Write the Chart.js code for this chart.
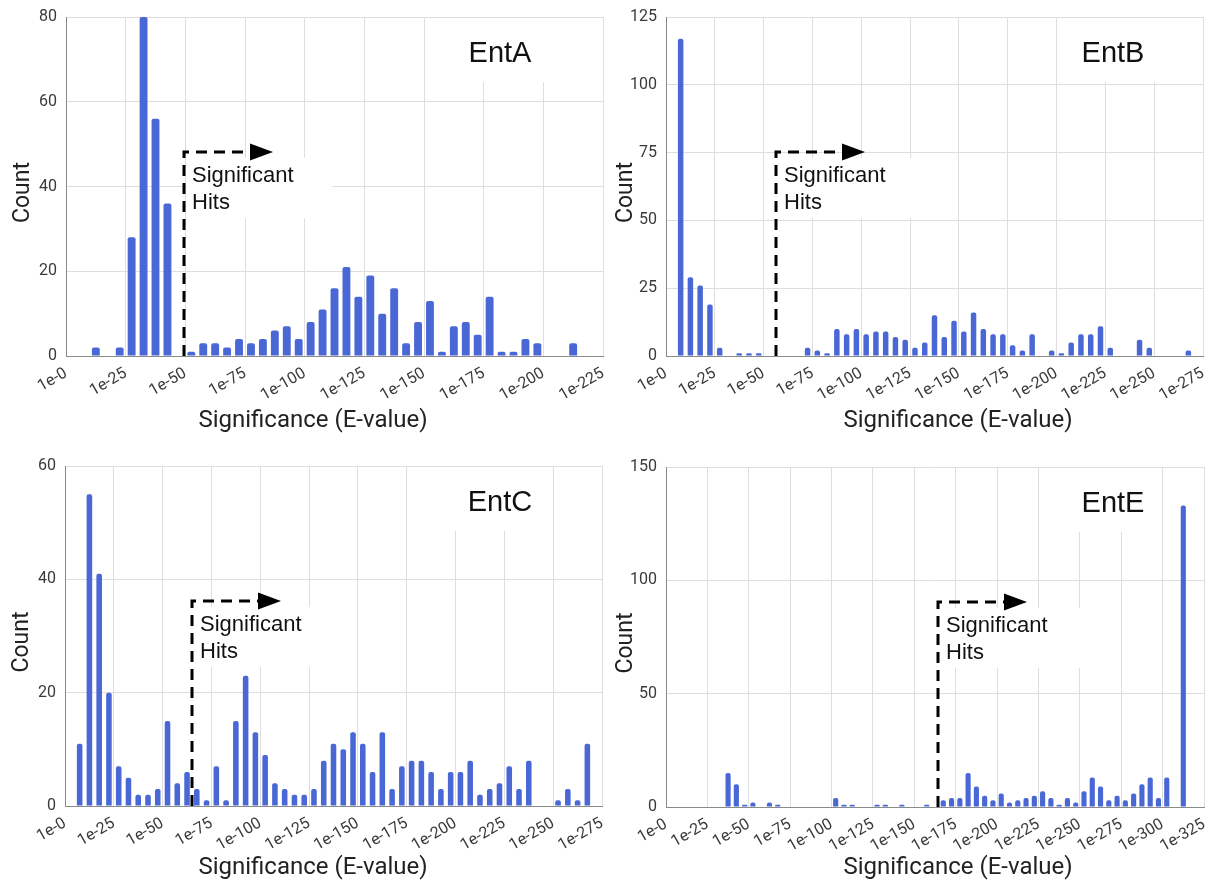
<!DOCTYPE html>
<html>
<head>
<meta charset="utf-8">
<title>E-value histograms</title>
<script src="https://cdn.jsdelivr.net/npm/chart.js@4.4.1/dist/chart.umd.min.js"></script>
<style>
  body { margin: 0; background: #fff; }
  .panel { position: absolute; }
</style>
</head>
<body>
<div class="panel" style="left:0;top:0"><canvas id="entA" width="612" height="444"></canvas></div>
<div class="panel" style="left:612px;top:0"><canvas id="entB" width="613" height="444"></canvas></div>
<div class="panel" style="left:0;top:444px"><canvas id="entC" width="612" height="444"></canvas></div>
<div class="panel" style="left:612px;top:444px"><canvas id="entE" width="613" height="444"></canvas></div>
<script>
// histogram bins are 5 units of -log10(E) wide, starting at 1e-0
const binWidth = 5;
const xTickStep = 25;

const countsA = [0, 0, 2, 0, 2, 28, 80, 56, 36, 0,
                 1, 3, 3, 2, 4, 3, 4, 6, 7, 4,
                 8, 11, 16, 21, 14, 19, 10, 16, 3, 8,
                 13, 1, 7, 8, 5, 14, 1, 1, 4, 3,
                 0, 0, 3, 0, 0];
const countsB = [0, 117, 29, 26, 19, 3, 0, 1, 1, 1,
                 0, 0, 0, 0, 3, 2, 1, 10, 8, 10,
                 8, 9, 9, 7, 6, 3, 5, 15, 7, 13,
                 9, 16, 10, 8, 8, 4, 2, 8, 0, 2,
                 1, 5, 8, 8, 11, 3, 0, 0, 6, 3,
                 0, 0, 0, 2, 0];
const countsC = [0, 11, 55, 41, 20, 7, 5, 2, 2, 3,
                 15, 4, 6, 3, 1, 7, 1, 15, 23, 13,
                 9, 4, 3, 2, 2, 3, 8, 11, 10, 13,
                 11, 6, 13, 3, 7, 8, 8, 6, 3, 6,
                 6, 8, 2, 3, 4, 7, 3, 8, 0, 0,
                 1, 3, 1, 11, 0];
const countsE = [0, 0, 0, 0, 0, 0, 0, 15, 10, 1,
                 2, 0, 2, 1, 0, 0, 0, 0, 0, 0,
                 4, 1, 1, 0, 0, 1, 1, 0, 1, 0,
                 0, 1, 0, 3, 4, 4, 15, 9, 5, 3,
                 6, 2, 3, 4, 5, 7, 4, 1, 4, 2,
                 7, 13, 9, 3, 5, 3, 6, 10, 13, 4,
                 13, 0, 133, 0, 0];

const panelNames = ["EntA", "EntB", "EntC", "EntE"];
const xMax = [225, 275, 275, 325];
const yMax = [80, 125, 60, 150];
const yStep = [20, 25, 20, 50];
// where the "Significant Hits" cut-off sits on each x axis
const cutoffs = [49.5, 56.5, 65, 164.5];

const barColor = "#4a67d6";
const gridColor = "#dedede";
const axisColor = "#8a8a8a";

const decor = {
  id: "panelDecor",
  beforeDatasetsDraw(chart, args, o) {
    const { ctx, chartArea: a, scales: { x } } = chart;
    const lx = x.getPixelForValue(o.cutoff);
    const ay = a.top + 135;
    ctx.save();
    ctx.fillStyle = "#fff";
    ctx.fillRect(o.nameX - 48, a.top + 1, 96, 64);
    ctx.fillRect(lx + 3, ay + 6, 145, 60);
    ctx.restore();
  },
  afterDatasetsDraw(chart, args, o) {
    const { ctx, chartArea: a, scales: { x } } = chart;
    const lx = Math.round(x.getPixelForValue(o.cutoff));
    const ay = a.top + 135;
    ctx.save();
    ctx.strokeStyle = "#000";
    ctx.lineWidth = 3;
    ctx.setLineDash([11, 7]);
    ctx.beginPath();
    ctx.moveTo(lx, a.bottom);
    ctx.lineTo(lx, ay);
    ctx.lineTo(lx + 66, ay);
    ctx.stroke();
    ctx.setLineDash([]);
    ctx.fillStyle = "#000";
    ctx.beginPath();
    ctx.moveTo(lx + 66, ay - 8.5);
    ctx.lineTo(lx + 89, ay);
    ctx.lineTo(lx + 66, ay + 8.5);
    ctx.closePath();
    ctx.fill();

    ctx.fillStyle = "#111";
    ctx.textBaseline = "middle";
    ctx.textAlign = "left";
    ctx.font = '22px "Liberation Sans", Arial, sans-serif';
    ctx.fillText("Significant", lx + 8, ay + 24);
    ctx.fillText("Hits", lx + 8, ay + 51);

    ctx.textAlign = "center";
    ctx.font = '29px "Liberation Sans", Arial, sans-serif';
    ctx.fillText(o.name, o.nameX, a.top + 37);

    // axis titles
    ctx.fillStyle = "#222";
    ctx.font = '24px Roboto, "Liberation Sans", sans-serif';
    ctx.fillText("Significance (E-value)", o.xTitleX, o.xTitleY);
    ctx.font = '23px Roboto, "Liberation Sans", sans-serif';
    ctx.translate(a.left - o.yTitleGap, (a.top + a.bottom) / 2 + 6);
    ctx.rotate(-Math.PI / 2);
    ctx.fillText("Count", 0, 0);
    ctx.restore();
  }
};

const layouts = [
  { top: 17, right: 9,  yWidth: 66, xHeight: 88, nameX: 500, xTitleX: 313, xTitleY: 421, yTitleGap: 43, pct: 0.66 },
  { top: 17, right: 22, yWidth: 54, xHeight: 88, nameX: 501, xTitleX: 346, xTitleY: 421, yTitleGap: 40, pct: 0.56 },
  { top: 22, right: 10, yWidth: 65, xHeight: 82, nameX: 500, xTitleX: 313, xTitleY: 424, yTitleGap: 43, pct: 0.57 },
  { top: 23, right: 21, yWidth: 54, xHeight: 81, nameX: 501, xTitleX: 346, xTitleY: 424, yTitleGap: 40, pct: 0.62 }
];

const allCounts = [countsA, countsB, countsC, countsE];
const ids = ["entA", "entB", "entC", "entE"];

ids.forEach((id, p) => {
  const L = layouts[p];
  const points = allCounts[p].map((c, i) => ({ x: i * binWidth + binWidth / 2, y: c }));
  const tickFont = { family: "Roboto", size: 16 };

  new Chart(document.getElementById(id), {
    type: "bar",
    data: {
      datasets: [{
        label: "Count",
        data: points,
        backgroundColor: barColor,
        borderRadius: 2,
        barPercentage: 1,
        categoryPercentage: L.pct
      }]
    },
    options: {
      responsive: false,
      animation: false,
      layout: { padding: { top: L.top, right: L.right, left: 0, bottom: 0 } },
      plugins: {
        legend: { display: false },
        tooltip: { enabled: false },
        panelDecor: {
          name: panelNames[p],
          cutoff: cutoffs[p],
          nameX: L.nameX,
          xTitleX: L.xTitleX,
          xTitleY: L.xTitleY,
          yTitleGap: L.yTitleGap
        }
      },
      scales: {
        x: {
          type: "linear",
          min: 0,
          max: xMax[p],
          offset: false,
          grid: { color: gridColor, drawTicks: false, offset: false },
          border: { color: axisColor },
          ticks: {
            stepSize: xTickStep,
            autoSkip: false,
            minRotation: 30,
            maxRotation: 30,
            padding: 8,
            color: "#3a3a3a",
            font: tickFont,
            callback: v => "1e-" + v
          },
          afterFit: s => {
            s.height = L.xHeight;
            s.paddingLeft = 0;
            s.paddingRight = 0;
          }
        },
        y: {
          min: 0,
          max: yMax[p],
          grid: { color: gridColor, drawTicks: false },
          border: { color: axisColor },
          ticks: { stepSize: yStep[p], padding: 9, color: "#3a3a3a", font: tickFont },
          afterFit: s => {
            s.width = L.yWidth;
            s.paddingTop = 0;
            s.paddingBottom = 0;
          }
        }
      }
    },
    plugins: [decor]
  });
});
</script>
</body>
</html>
